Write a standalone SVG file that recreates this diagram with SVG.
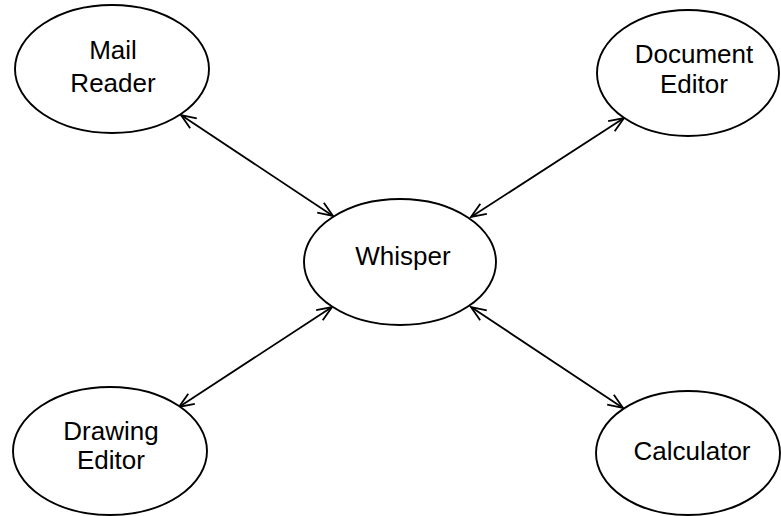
<svg xmlns="http://www.w3.org/2000/svg" width="781" height="516" viewBox="0 0 781 516">
  <style>
    .node ellipse { fill: #ffffff; stroke: #000000; stroke-width: 1.9; }
    .node text { font-family: "Liberation Sans", Arial, Helvetica, sans-serif; font-size: 26px; fill: #000000; text-anchor: middle; }
    .link { stroke: #000000; stroke-width: 1.8; fill: none; marker-start: url(#head); marker-end: url(#head); }
  </style>
  <defs>
    <marker id="head" markerUnits="userSpaceOnUse" markerWidth="20" markerHeight="16" viewBox="-16 -8 18 16" refX="0" refY="0" orient="auto-start-reverse">
      <path d="M -15 -6 L 0 0 L -15 6" fill="none" stroke="#000000" stroke-width="1.8" stroke-linejoin="miter"/>
    </marker>
  </defs>
  <rect width="781" height="516" fill="#ffffff"/>

  <!-- connectors: every client talks to Whisper in both directions -->
  <g id="connectors">
    <line class="link" x1="181" y1="115" x2="333" y2="216"/>
    <line class="link" x1="624" y1="118" x2="471" y2="217"/>
    <line class="link" x1="179" y1="407" x2="332" y2="307"/>
    <line class="link" x1="623" y1="408" x2="471" y2="307"/>
  </g>

  <g id="mail-reader" class="node">
    <ellipse cx="112" cy="69" rx="97" ry="64"/>
    <text x="113" y="59">Mail</text>
    <text x="113" y="92">Reader</text>
  </g>

  <g id="document-editor" class="node">
    <ellipse cx="688" cy="73" rx="91" ry="63"/>
    <text x="694" y="63">Document</text>
    <text x="694" y="93">Editor</text>
  </g>

  <g id="whisper" class="node">
    <ellipse cx="400" cy="262" rx="96" ry="63"/>
    <text x="403" y="265">Whisper</text>
  </g>

  <g id="drawing-editor" class="node">
    <ellipse cx="110" cy="451" rx="97" ry="64"/>
    <text x="111" y="440">Drawing</text>
    <text x="111" y="469">Editor</text>
  </g>

  <g id="calculator" class="node">
    <ellipse cx="688" cy="453" rx="92" ry="62"/>
    <text x="692" y="460">Calculator</text>
  </g>
</svg>
